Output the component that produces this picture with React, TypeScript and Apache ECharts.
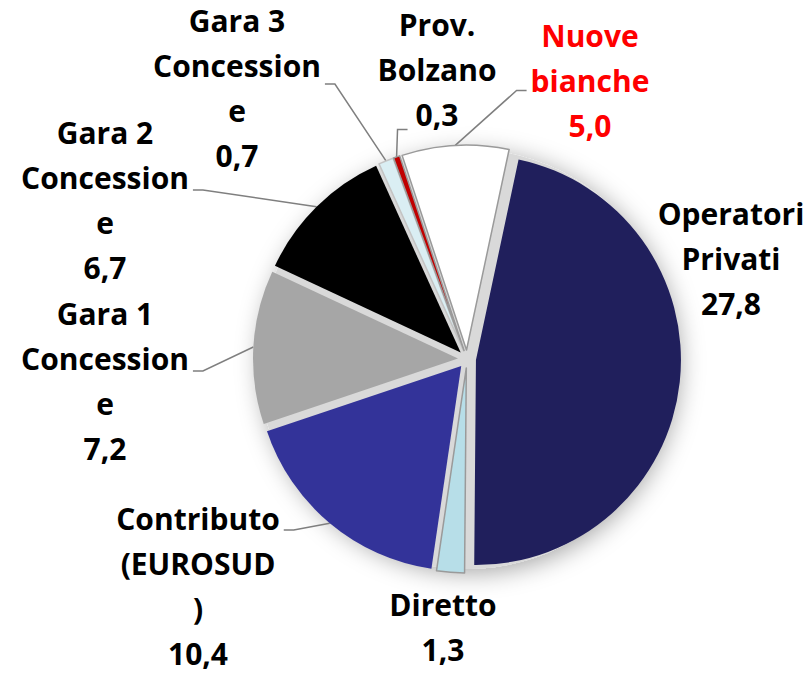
import React, { useEffect, useRef } from "react";
import * as echarts from "echarts";

const categories = [
  "Operatori\nPrivati",
  "Diretto",
  "Contributo\n(EUROSUD\n)",
  "Gara 1\nConcession\ne",
  "Gara 2\nConcession\ne",
  "Gara 3\nConcession\ne",
  "Prov.\nBolzano",
  "Nuove\nbianche",
];
const values = [27.8, 1.3, 10.4, 7.2, 6.7, 0.7, 0.3, 5.0];
const sliceColors = ["#201f5c", "#b7dee8", "#333399", "#a6a6a6", "#000000", "#daeef3", "#c00000", "#ffffff"];
const sliceBorders = ["none", "#9a9a9a", "none", "none", "none", "#c4c4c4", "#9a9a9a", "#9a9a9a"];
const labelColors = ["#000", "#000", "#000", "#000", "#000", "#000", "#000", "#ff0000"];
const labelLineShown = [false, false, true, true, true, true, true, true];
// label block centers (layout only)
const labelCenters = [
  [731, 258],
  [443, 627],
  [198, 586],
  [105, 381],
  [105, 200],
  [237, 88],
  [437, 69],
  [590, 80],
];
// where each leader line meets its label: side, offset from block top, inset along x
const leaderAttach: (null | [string, number, number])[] = [
  null,
  null,
  ["right", 34, 0],
  ["right", 80, 0],
  ["right", 80, 0],
  ["right", 86, 0],
  ["left", 128, 34],
  ["left", 78, 0],
];

const CX = 467;
const CY = 359;
const R = 205;
const EXPLODE = 9;
const START = 78;

export default function App() {
  const ref = useRef<HTMLDivElement>(null);
  useEffect(() => {
    if (!ref.current) return;
    const chart = echarts.init(ref.current, undefined, { renderer: "svg" });
    const total = values.reduce((a, b) => a + b, 0);
    let cum = 0;
    const sliceSeries = values.map((v, i) => {
      const mid = ((START - ((cum + v / 2) / total) * 360) * Math.PI) / 180;
      cum += v;
      const ecx = CX + EXPLODE * Math.cos(mid);
      const ecy = CY - EXPLODE * Math.sin(mid);
      const edge = [ecx + R * Math.cos(mid), ecy - R * Math.sin(mid)];
      const style: any = { color: sliceColors[i] };
      if (sliceBorders[i] !== "none") {
        style.borderColor = sliceBorders[i];
        style.borderWidth = 1.5;
      } else {
        style.borderWidth = 0;
      }
      return {
        type: "pie",
        z: 2,
        silent: true,
        center: [ecx, ecy],
        radius: [0, R],
        startAngle: START,
        clockwise: true,
        avoidLabelOverlap: false,
        emphasis: { disabled: true },
        label: {
          show: false,
          position: "outside",
          fontFamily: "Open Sans",
          fontWeight: "bold",
          fontSize: 30,
          lineHeight: 45,
          align: "center",
          formatter: (p: any) => p.name + "\n" + p.value.toFixed(1).replace(".", ","),
        },
        labelLine: {
          show: false,
          length: 10,
          length2: 8,
          lineStyle: { color: "#7f7f7f", width: 1.5 },
        },
        labelLayout: (params: any) => {
          if (params.dataIndex !== i) return {};
          const c = labelCenters[i];
          const out: any = { x: c[0], y: c[1], align: "center", verticalAlign: "middle" };
          const a = leaderAttach[i];
          if (a && labelLineShown[i]) {
            const w = params.labelRect.width;
            const h = params.labelRect.height;
            const top = c[1] - h / 2;
            const sx = a[0] === "right" ? c[0] + w / 2 + 4 - a[2] : c[0] - w / 2 - 4 + a[2];
            const p2 = [sx, top + a[1]];
            const p1 = [sx + (a[0] === "right" ? 10 : -10), top + a[1]];
            out.labelLinePoints = [edge, p1, p2];
          }
          return out;
        },
        data: values.map((w, j) => ({
          name: categories[j],
          value: w,
          itemStyle: j === i ? style : { color: "rgba(0,0,0,0)", borderWidth: 0 },
          label: { show: j === i, color: labelColors[j] },
          labelLine: { show: j === i && labelLineShown[j] },
        })),
      };
    });
    chart.setOption({
      animation: false,
      backgroundColor: "#ffffff",
      series: [
        {
          type: "pie",
          z: 1,
          silent: true,
          center: [CX, CY],
          radius: [0, R + 5],
          label: { show: false },
          labelLine: { show: false },
          emphasis: { disabled: true },
          data: [
            {
              value: 1,
              itemStyle: {
                color: "#d9d9d9",
                shadowBlur: 24,
                shadowColor: "rgba(0,0,0,0.35)",
                shadowOffsetX: 3,
                shadowOffsetY: 4,
              },
            },
          ],
        },
        ...sliceSeries,
      ],
    });
    return () => chart.dispose();
  }, []);
  return (
    <div
      ref={ref}
      style={{ position: "fixed", left: 0, top: 0, width: 812, height: 673 }}
    />
  );
}
